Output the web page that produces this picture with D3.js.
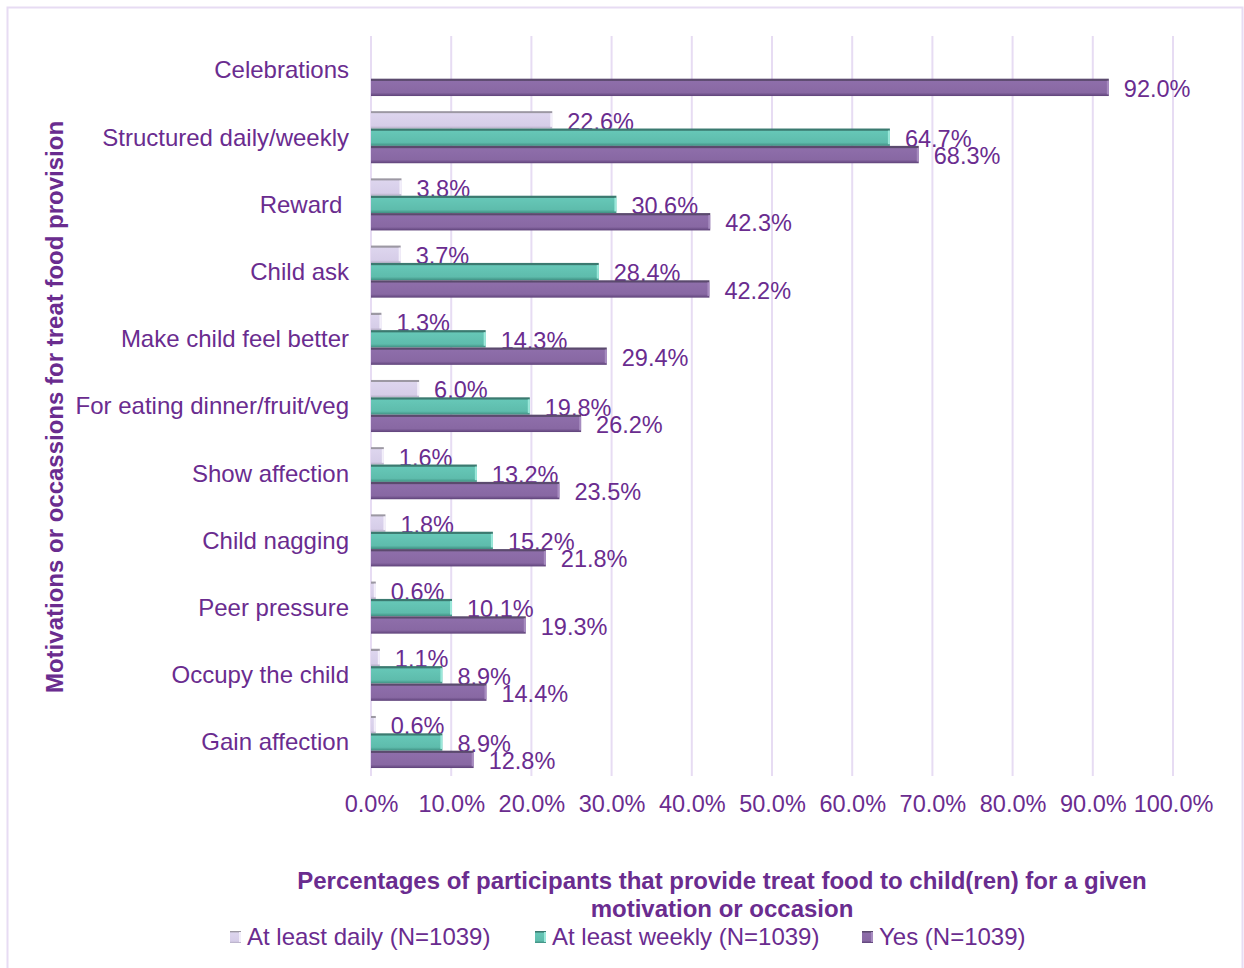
<!DOCTYPE html>
<html>
<head>
<meta charset="utf-8">
<script src="https://cdn.jsdelivr.net/npm/d3@7"></script>
<style>
  html, body { margin: 0; padding: 0; background: #fff; }
  svg { display: block; font-family: "Liberation Sans", Arial, sans-serif; }
  text { white-space: pre; }
</style>
</head>
<body>
<svg id="chart" width="1244" height="968"></svg>
<script>
// Motivations / occasions for giving treat food (top to bottom)
const categories = [
  "Celebrations",
  "Structured daily/weekly",
  "Reward ",
  "Child ask",
  "Make child feel better",
  "For eating dinner/fruit/veg",
  "Show affection",
  "Child nagging",
  "Peer pressure",
  "Occupy the child",
  "Gain affection"
];

// Percentages per series (null = not asked)
const dailyValues  = [null, 22.6, 3.8, 3.7, 1.3, 6.0, 1.6, 1.8, 0.6, 1.1, 0.6];
const weeklyValues = [null, 64.7, 30.6, 28.4, 14.3, 19.8, 13.2, 15.2, 10.1, 8.9, 8.9];
const yesValues    = [92.0, 68.3, 42.3, 42.2, 29.4, 26.2, 23.5, 21.8, 19.3, 14.4, 12.8];

const seriesNames = ["At least daily (N=1039)", "At least weekly (N=1039)", "Yes (N=1039)"];
const xTicks = [0, 10, 20, 30, 40, 50, 60, 70, 80, 90, 100];

const yTitle = "Motivations or occassions for treat food provision";
const xTitleLines = [
  "Percentages of participants that provide treat food to child(ren) for a given",
  "motivation or occasion"
];

const TEXT = "#6a2c8f";
const GRID = "#e7dcf3";

const svg = d3.select("#chart");

// outer chart frame
svg.append("rect")
  .attr("x", 7.5).attr("y", 7.5)
  .attr("width", 1235).attr("height", 980)
  .attr("fill", "#fff")
  .attr("stroke", GRID).attr("stroke-width", 2);

// bar shading gradients (top edge, body, bottom edge)
const defs = svg.append("defs");
const gradSpecs = [
  { id: "g-daily", stops: [[0, "#9c98a3"], [0.1, "#9c98a3"], [0.14, "#ddd5ee"], [0.85, "#d6cde8"], [1, "#b4acc4"]] },
  { id: "g-weekly", stops: [[0, "#3b7a70"], [0.1, "#3b7a70"], [0.16, "#66c7b7"], [0.8, "#5ebcac"], [1, "#3f8e81"]] },
  { id: "g-yes", stops: [[0, "#5b4a6e"], [0.1, "#5b4a6e"], [0.16, "#8e6eaa"], [0.8, "#8868a3"], [1, "#5e4279"]] }
];
gradSpecs.forEach(g => {
  const lg = defs.append("linearGradient").attr("id", g.id)
    .attr("x1", 0).attr("y1", 0).attr("x2", 0).attr("y2", 1);
  g.stops.forEach(s => lg.append("stop").attr("offset", s[0]).attr("stop-color", s[1]));
});
const capColors = ["#f3effa", "#9be8da", "#a78cc0"];

const x = d3.scaleLinear().domain([0, 100]).range([371, 1173]);
const y = d3.scaleBand().domain(categories).range([36.4, 775.6])
  .paddingInner(0.225).paddingOuter(0.1125);
const sub = d3.scaleBand().domain([0, 1, 2]).range([0, y.bandwidth()]);

// vertical gridlines
svg.append("g").selectAll("line").data(xTicks).join("line")
  .attr("x1", d => x(d)).attr("x2", d => x(d))
  .attr("y1", 36).attr("y2", 776)
  .attr("stroke", GRID).attr("stroke-width", 2);

// x axis tick labels
const xAxis = d3.axisBottom(x).tickValues(xTicks)
  .tickFormat(d => d3.format(".1f")(d) + "%").tickSize(0).tickPadding(0);
const gx = svg.append("g").attr("transform", "translate(0,795)").call(xAxis);
gx.select(".domain").remove();
gx.selectAll("text")
  .attr("fill", TEXT).attr("font-size", "23.5px")
  .attr("font-family", "'Liberation Sans', Arial, sans-serif")
  .attr("dy", "0.71em").attr("y", 0);

// y axis category labels
const yAxis = d3.axisLeft(y).tickSize(0).tickPadding(0);
const gy = svg.append("g").attr("transform", "translate(349,0)").call(yAxis);
gy.select(".domain").remove();
gy.selectAll("text")
  .attr("fill", TEXT).attr("font-size", "24px")
  .attr("font-family", "'Liberation Sans', Arial, sans-serif")
  .attr("dy", "0.35em").attr("x", 0);

// bars
const series = [dailyValues, weeklyValues, yesValues];
const rows = [];
categories.forEach((c, i) => {
  series.forEach((vals, s) => {
    if (vals[i] != null) rows.push({ cat: c, s, v: vals[i] });
  });
});

const bars = svg.append("g").selectAll("g").data(rows).join("g")
  .attr("transform", d => `translate(0,${y(d.cat) + sub(d.s)})`);

bars.append("rect")
  .attr("x", x(0))
  .attr("y", 0)
  .attr("width", d => x(d.v) - x(0))
  .attr("height", sub.bandwidth())
  .attr("fill", d => `url(#${gradSpecs[d.s].id})`);

// lighter end cap
bars.append("rect")
  .attr("x", d => Math.max(x(0), x(d.v) - 2))
  .attr("y", sub.bandwidth() * 0.12)
  .attr("width", d => Math.min(2, x(d.v) - x(0)))
  .attr("height", sub.bandwidth() * 0.78)
  .attr("fill", d => capColors[d.s]);

// value labels
bars.append("text")
  .attr("x", d => x(d.v) + 15)
  .attr("y", sub.bandwidth() / 2 + 1.5)
  .attr("dy", "0.35em")
  .attr("fill", TEXT).attr("font-size", "23.5px")
  .text(d => d3.format(".1f")(d.v) + "%");

// y axis title
svg.append("text")
  .attr("transform", "translate(55,407) rotate(-90)")
  .attr("text-anchor", "middle").attr("dy", "0.35em")
  .attr("fill", TEXT).attr("font-size", "24px").attr("font-weight", "bold")
  .text(yTitle);

// x axis title
svg.append("g").selectAll("text").data(xTitleLines).join("text")
  .attr("x", 722).attr("y", (d, i) => 881 + i * 28)
  .attr("dy", "0.35em").attr("text-anchor", "middle")
  .attr("fill", TEXT).attr("font-size", "24px").attr("font-weight", "bold")
  .text(d => d);

// legend
const legendX = [230, 535, 862];
const leg = svg.append("g").selectAll("g").data(seriesNames).join("g")
  .attr("transform", (d, i) => `translate(${legendX[i]},937)`);
leg.append("rect")
  .attr("x", 0).attr("y", -6).attr("width", 11).attr("height", 12)
  .attr("fill", (d, i) => `url(#${gradSpecs[i].id})`);
leg.append("rect")
  .attr("x", 9).attr("y", -5).attr("width", 2).attr("height", 10)
  .attr("fill", (d, i) => capColors[i]);
leg.append("text")
  .attr("x", 17).attr("y", 0).attr("dy", "0.35em")
  .attr("fill", TEXT).attr("font-size", "24px")
  .text(d => d);
</script>
</body>
</html>
